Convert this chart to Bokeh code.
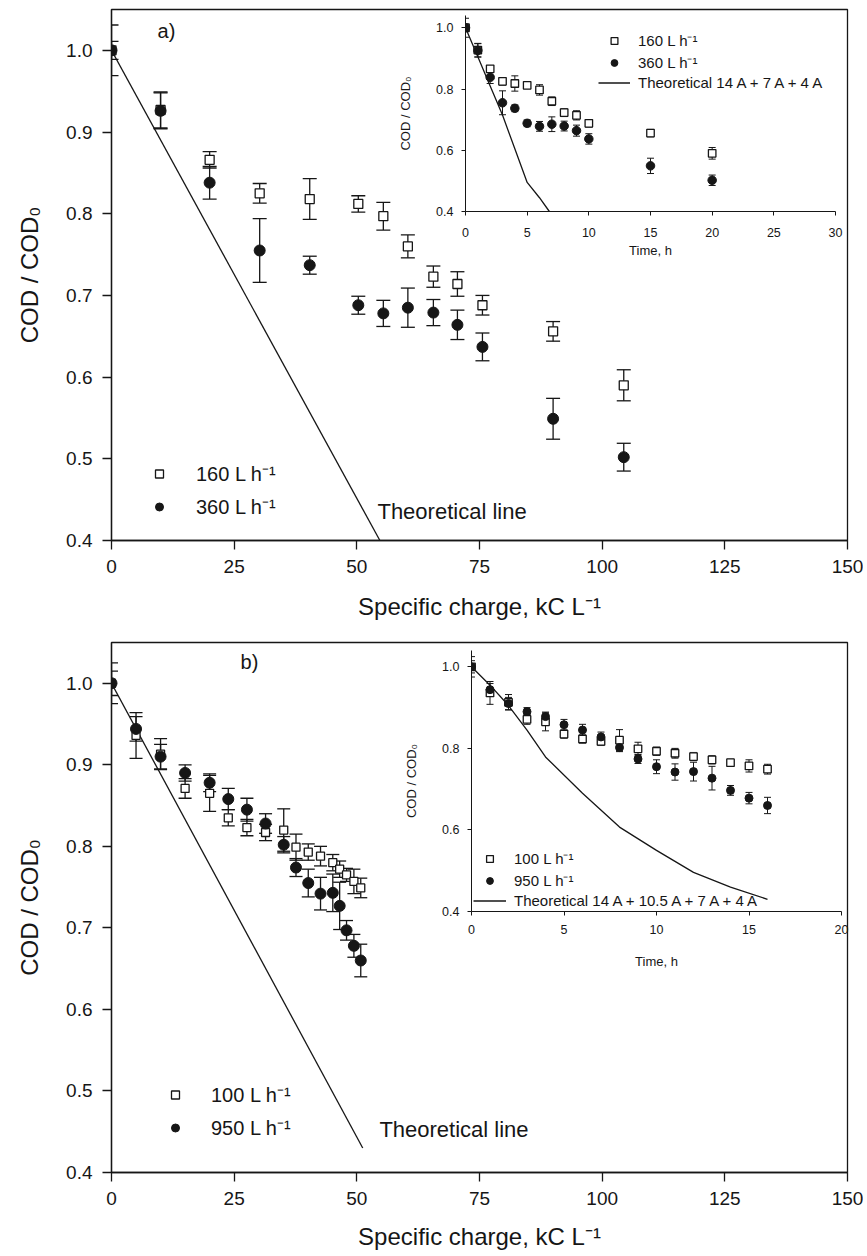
from bokeh.plotting import figure
from bokeh.models import (Range1d, FixedTicker, PrintfTickFormatter, Whisker, TeeHead,
                          ColumnDataSource, Legend, LegendItem, Label, GridBox)
from bokeh.embed import file_html
from bokeh.resources import INLINE

FONT = "Liberation Sans"
INK = "#161616"

# ---------------- data: panel a ----------------
charge_a = [0, 10, 20, 30.2, 40.4, 50.3, 55.4, 60.4, 65.6, 70.5, 75.6, 90.0, 104.4]
time_a = [0, 1, 2, 3, 4, 5, 6, 7, 8, 9, 10, 15, 20]
cod_160 = [1.000, 0.927, 0.866, 0.825, 0.818, 0.812, 0.797, 0.760, 0.723, 0.714, 0.688, 0.656, 0.590]
err_160 = [0.031, 0.022, 0.010, 0.012, 0.025, 0.010, 0.017, 0.014, 0.013, 0.015, 0.012, 0.012, 0.019]
cod_360 = [1.000, 0.926, 0.838, 0.755, 0.737, 0.688, 0.678, 0.685, 0.679, 0.664, 0.637, 0.549, 0.502]
err_360 = [0.011, 0.022, 0.020, 0.039, 0.011, 0.011, 0.016, 0.024, 0.016, 0.018, 0.017, 0.025, 0.017]
theo_a_charge = [0, 54.7]
theo_a_cod = [1.0, 0.4]
theo_a_time = [0, 1, 2, 3, 4, 5, 6, 6.8]
theo_a_time_cod = [1.0, 0.905, 0.81, 0.715, 0.605, 0.495, 0.445, 0.40]

# ---------------- data: panel b ----------------
time_b = [0, 1, 2, 3, 4, 5, 6, 7, 8, 9, 10, 11, 12, 13, 14, 15, 16]
charge_b = [0, 5, 10, 15, 20, 23.8, 27.6, 31.4, 35.1, 37.6, 40.1, 42.6, 45.1, 46.5, 47.9, 49.4, 50.8]
cod_100 = [1.000, 0.936, 0.913, 0.871, 0.865, 0.835, 0.823, 0.817, 0.820, 0.799, 0.793, 0.788, 0.780, 0.772, 0.765, 0.757, 0.749]
err_100 = [0.025, 0.028, 0.019, 0.012, 0.022, 0.010, 0.010, 0.010, 0.026, 0.016, 0.010, 0.012, 0.010, 0.010, 0.008, 0.015, 0.012]
cod_950 = [1.000, 0.944, 0.910, 0.890, 0.878, 0.858, 0.845, 0.828, 0.802, 0.774, 0.755, 0.742, 0.743, 0.727, 0.697, 0.678, 0.660]
err_950 = [0.015, 0.015, 0.015, 0.010, 0.011, 0.013, 0.014, 0.012, 0.010, 0.011, 0.017, 0.020, 0.023, 0.029, 0.012, 0.014, 0.020]
theo_b_charge = [0, 51.2]
theo_b_cod = [1.0, 0.43]
theo_b_time = [0, 1, 2, 3, 4, 6, 8, 10, 12, 14, 16]
theo_b_time_cod = [1.0, 0.955, 0.905, 0.845, 0.779, 0.69, 0.607, 0.55, 0.496, 0.46, 0.430]

# ---------------- ticks / labels ----------------
main_x_ticks = [0, 25, 50, 75, 100, 125, 150]
main_y_ticks = [0.4, 0.5, 0.6, 0.7, 0.8, 0.9, 1.0]
inset_a_x_ticks = [0, 5, 10, 15, 20, 25, 30]
inset_b_x_ticks = [0, 5, 10, 15, 20]
inset_y_ticks = [0.4, 0.6, 0.8, 1.0]
x_title = "Specific charge, kC L\u207b\u00b9"
y_title = "COD / COD\u2080"
t_title = "Time, h"

W = 863                      # width of main panels
H_A = 632                    # height of panel a
H_B = 620                    # height of panel b
BL, BR = 111, 16             # left / right borders shared by panels and insets
BT_A, BB_A = 9, 92           # top / bottom borders, row a
BT_B, BB_B = 10, 79          # top / bottom borders, row b


def add_bars(fig, xs, ys, errs, head, lw):
    src = ColumnDataSource(dict(x=xs,
                                lo=[y - e for y, e in zip(ys, errs)],
                                hi=[y + e for y, e in zip(ys, errs)]))
    w = Whisker(base="x", lower="lo", upper="hi", source=src, dimension="height",
                line_color=INK, line_width=lw,
                upper_head=TeeHead(size=head, line_color=INK, line_width=lw),
                lower_head=TeeHead(size=head, line_color=INK, line_width=lw))
    fig.add_layout(w)


def style_axes(fig, tick_size, label_size, tick_out, lw,
               xl_standoff, yl_standoff, xa_standoff, ya_standoff):
    for ax in fig.axis:
        ax.major_tick_out = tick_out
        ax.major_tick_in = 0
        ax.minor_tick_out = 0
        ax.minor_tick_in = 0
        ax.axis_line_color = INK
        ax.axis_line_width = lw
        ax.major_tick_line_color = INK
        ax.major_tick_line_width = lw
        ax.major_label_text_font = FONT
        ax.major_label_text_font_size = tick_size
        ax.major_label_text_color = INK
        ax.axis_label_text_font = FONT
        ax.axis_label_text_font_size = label_size
        ax.axis_label_text_font_style = "normal"
        ax.axis_label_text_color = INK
    fig.xaxis.major_label_standoff = xl_standoff
    fig.yaxis.major_label_standoff = yl_standoff
    fig.xaxis.axis_label_standoff = xa_standoff
    fig.yaxis.axis_label_standoff = ya_standoff


def make_legend(items, loc, glyph_w, glyph_h, standoff, spacing, font_size):
    return Legend(items=items, location=loc, orientation="vertical",
                  border_line_color=None, background_fill_alpha=0,
                  padding=0, margin=0, spacing=spacing,
                  glyph_width=glyph_w, glyph_height=glyph_h, label_height=glyph_h,
                  label_standoff=standoff, label_text_font=FONT,
                  label_text_font_size=font_size, label_text_color=INK)


def main_panel(height, top, bottom, xa_standoff):
    p = figure(width=W, height=height, x_range=Range1d(0, 150), y_range=Range1d(0.4, 1.05),
               output_backend="svg", toolbar_location=None,
               min_border_left=BL, min_border_right=W - BL - 736,
               min_border_top=top, min_border_bottom=bottom,
               x_axis_label=x_title, y_axis_label=y_title)
    p.grid.visible = False
    p.outline_line_color = INK
    p.outline_line_width = 1.3
    p.xaxis.ticker = FixedTicker(ticks=main_x_ticks)
    p.yaxis.ticker = FixedTicker(ticks=main_y_ticks)
    p.yaxis.formatter = PrintfTickFormatter(format="%.1f")
    style_axes(p, "19px", "24px", 9, 1.3, 10, 10, xa_standoff, 20)
    return p


def inset_panel(frame_l, frame_t, frame_w, frame_h, top, bottom, cell_top,
                xmax, xticks, xl_standoff, xa_standoff):
    # the inset shares its grid cell with the panel, so its borders equal the panel's;
    # the frame is placed with the figure's margin
    q = figure(width=BL + frame_w + BR, height=top + frame_h + bottom,
               x_range=Range1d(0, xmax), y_range=Range1d(0.4, 1.04),
               output_backend="svg", toolbar_location=None,
               min_border_left=BL, min_border_right=BR,
               min_border_top=top, min_border_bottom=bottom,
               x_axis_label=t_title, y_axis_label=y_title,
               background_fill_color=None, border_fill_color=None,
               outline_line_color=None,
               margin=(frame_t - top - cell_top, 0, 0, frame_l - BL))
    q.grid.visible = False
    q.xaxis.ticker = FixedTicker(ticks=xticks)
    q.yaxis.ticker = FixedTicker(ticks=inset_y_ticks)
    q.yaxis.formatter = PrintfTickFormatter(format="%.1f")
    style_axes(q, "12.5px", "13px", 4, 1.0, xl_standoff, 8, xa_standoff, 20)
    return q


# ================= panel a =================
pa = main_panel(H_A, BT_A, BB_A, 17)
pa.line(theo_a_charge, theo_a_cod, line_color=INK, line_width=1.3)
add_bars(pa, charge_a, cod_160, err_160, 14, 1.3)
add_bars(pa, charge_a, cod_360, err_360, 14, 1.3)
sq_a = pa.scatter(charge_a, cod_160, marker="square", size=9, fill_color="white",
                  line_color=INK, line_width=1.3)
ci_a = pa.scatter(charge_a, cod_360, marker="circle", size=11, fill_color=INK,
                  line_color=INK, line_width=1)
pa.add_layout(make_legend([LegendItem(label="160 L h\u207b\u00b9", renderers=[sq_a]),
                           LegendItem(label="360 L h\u207b\u00b9", renderers=[ci_a])],
                          (38, 20), 20, 23, 27, 6, "20px"))
pa.add_layout(Label(x=54.2, y=0.436, text="Theoretical line", text_font=FONT,
                    text_font_size="22px", text_baseline="middle", text_color=INK))
pa.add_layout(Label(x=9.4, y=1.024, text="a)", text_font=FONT,
                    text_font_size="20px", text_baseline="middle", text_color=INK))

# inset a: frame x 465..835, y 15..211 (page pixels)
ia = inset_panel(465, 15, 370, 196, BT_A, BB_A, 0, 30, inset_a_x_ticks, 12, 3)
th_ia = ia.line(theo_a_time, theo_a_time_cod, line_color=INK, line_width=1.3)
add_bars(ia, time_a, cod_160, err_160, 7, 1.0)
add_bars(ia, time_a, cod_360, err_360, 7, 1.0)
sq_ia = ia.scatter(time_a, cod_160, marker="square", size=7.5, fill_color="white",
                   line_color=INK, line_width=1.3)
ci_ia = ia.scatter(time_a, cod_360, marker="circle", size=8.5, fill_color=INK,
                   line_color=INK, line_width=1)
ia.add_layout(make_legend([LegendItem(label="160 L h\u207b\u00b9", renderers=[sq_ia]),
                           LegendItem(label="360 L h\u207b\u00b9", renderers=[ci_ia]),
                           LegendItem(label="Theoretical 14 A + 7 A + 4 A", renderers=[th_ia])],
                          (133, 120), 32, 17, 8, 2, "15px"))

# ================= panel b =================
pb = main_panel(H_B, BT_B, BB_B, 15)
pb.line(theo_b_charge, theo_b_cod, line_color=INK, line_width=1.3)
add_bars(pb, charge_b, cod_100, err_100, 13, 1.3)
add_bars(pb, charge_b, cod_950, err_950, 13, 1.3)
sq_b = pb.scatter(charge_b, cod_100, marker="square", size=8, fill_color="white",
                  line_color=INK, line_width=1.3)
ci_b = pb.scatter(charge_b, cod_950, marker="circle", size=11, fill_color=INK,
                  line_color=INK, line_width=1)
pb.add_layout(make_legend([LegendItem(label="100 L h\u207b\u00b9", renderers=[sq_b]),
                           LegendItem(label="950 L h\u207b\u00b9", renderers=[ci_b])],
                          (54, 31), 20, 23, 26, 6, "20px"))
pb.add_layout(Label(x=54.6, y=0.4525, text="Theoretical line", text_font=FONT,
                    text_font_size="22px", text_baseline="middle", text_color=INK))
pb.add_layout(Label(x=26.3, y=1.026, text="b)", text_font=FONT,
                    text_font_size="20px", text_baseline="middle", text_color=INK))

# inset b: frame x 471..841, y 650..912 (page pixels)
ib = inset_panel(471, 650, 370, 262, BT_B, BB_B, H_A, 20, inset_b_x_ticks, 9, 17)
th_ib = ib.line(theo_b_time, theo_b_time_cod, line_color=INK, line_width=1.3)
add_bars(ib, time_b, cod_100, err_100, 7, 1.0)
add_bars(ib, time_b, cod_950, err_950, 7, 1.0)
sq_ib = ib.scatter(time_b, cod_100, marker="square", size=7.5, fill_color="white",
                   line_color=INK, line_width=1.3)
ci_ib = ib.scatter(time_b, cod_950, marker="circle", size=8, fill_color=INK,
                   line_color=INK, line_width=1)
ib.add_layout(make_legend([LegendItem(label="100 L h\u207b\u00b9", renderers=[sq_ib]),
                           LegendItem(label="950 L h\u207b\u00b9", renderers=[ci_ib]),
                           LegendItem(label="Theoretical 14 A + 10.5 A + 7 A + 4 A",
                                      renderers=[th_ib])],
                          (2, 2), 33, 17, 8, 2, "15px"))

grid = GridBox(children=[(pa, 0, 0), (ia, 0, 0), (pb, 1, 0), (ib, 1, 0)], spacing=0)

open("out.html", "w").write(file_html(grid, INLINE))
